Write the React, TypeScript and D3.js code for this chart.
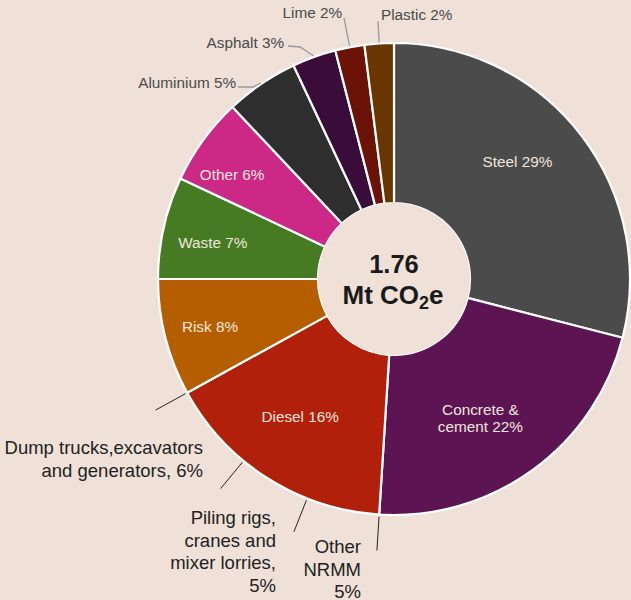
import React from "react";
import * as d3 from "d3";

// Share of embodied carbon by source (per cent), clockwise from 12 o'clock
const categories = [
  "Steel",
  "Concrete & cement",
  "Diesel",
  "Risk",
  "Waste",
  "Other",
  "Aluminium",
  "Asphalt",
  "Lime",
  "Plastic",
];
const shares = [29, 22, 16, 8, 7, 6, 5, 3, 2, 2];
const colors = [
  "#4b4b4b",
  "#5c1452",
  "#b1200b",
  "#b55e00",
  "#467b23",
  "#cc2885",
  "#2e2e2e",
  "#3a0c39",
  "#6a1306",
  "#6a3600",
];

// Diesel split, clockwise from the start of the diesel slice
const dieselParts = ["Other NRMM", "Piling rigs, cranes and mixer lorries", "Dump trucks,excavators and generators"];
const dieselShares = [5, 5, 6];
const dieselLines = [
  ["Other", "NRMM", "5%"],
  ["Piling rigs,", "cranes and", "mixer lorries,", "5%"],
  ["Dump trucks,excavators", "and generators, 6%"],
];

const totalLabel = "1.76";

const W = 631;
const H = 600;
const CX = 394;
const CY = 279;
const R_OUT = 236;
const R_IN = 76;
const BG = "#efe1d7";
const FONT = "'Liberation Sans', Arial, Helvetica, sans-serif";

// Label placement inside slices: [radius, angle offset in degrees]
const insidePlacement: Record<string, [number, number]> = {
  Steel: [171, -6],
  "Concrete & cement": [163, 4],
  Diesel: [166, 2],
  Risk: [190, 0],
  Waste: [185, -1],
  Other: [193, -3],
};

// Small slices labelled outside with a leader line: label anchor + elbow
const outsidePlacement: Record<string, { x: number; y: number; elbow: [number, number][] }> = {
  Aluminium: { x: 236, y: 82, elbow: [[253, 87], [238, 87]] },
  Asphalt: { x: 284, y: 42, elbow: [[300, 47], [288, 46]] },
  Lime: { x: 342, y: 12, elbow: [[344, 18]] },
  Plastic: { x: 381, y: 14, elbow: [[378, 21]] },
};

// Diesel sub-label anchors (right edge, first line centre)
const dieselLabelPos: [number, number][] = [
  [361, 546],
  [276, 517],
  [203, 447],
];

export default function App() {
  const rows = categories.map((name, i) => ({ name, value: shares[i], color: colors[i] }));
  const pie = d3
    .pie<{ name: string; value: number; color: string }>()
    .sort(null)
    .value((d) => d.value)
    .startAngle(0)
    .endAngle(2 * Math.PI);
  const arcs = pie(rows);
  const arc = d3
    .arc<d3.PieArcDatum<{ name: string; value: number; color: string }>>()
    .innerRadius(R_IN)
    .outerRadius(R_OUT);

  const total = d3.sum(shares);
  const angle = d3.scaleLinear().domain([0, total]).range([0, 2 * Math.PI]);
  const polar = (a: number, r: number): [number, number] => [CX + r * Math.sin(a), CY - r * Math.cos(a)];

  // Diesel slice boundaries for the tick marks
  const dieselIdx = categories.indexOf("Diesel");
  const dieselStart = d3.sum(shares.slice(0, dieselIdx));
  const cum = [dieselStart];
  dieselShares.forEach((v) => cum.push(cum[cum.length - 1] + v));

  return (
    <div style={{ position: "absolute", left: 0, top: 0, width: W, height: H, background: BG }}>
      <svg width={W} height={H} style={{ display: "block" }} fontFamily={FONT}>
        <rect width={W} height={H} fill={BG} />
        <g transform={`translate(${CX},${CY})`}>
          {arcs.map((a) => (
            <path key={a.data.name} d={arc(a) || ""} fill={a.data.color} stroke="#ffffff" strokeWidth={2.2} strokeLinejoin="round" />
          ))}
          <circle r={R_IN} fill={BG} />
        </g>

        {/* labels inside the larger slices */}
        {arcs
          .filter((a) => insidePlacement[a.data.name])
          .map((a) => {
            const [r, off] = insidePlacement[a.data.name];
            const mid = (a.startAngle + a.endAngle) / 2 + (off * Math.PI) / 180;
            const [x, y] = polar(mid, r);
            const text = `${a.data.name} ${a.data.value}%`;
            const lines = a.data.name === "Concrete & cement" ? ["Concrete &", `cement ${a.data.value}%`] : [text];
            return (
              <text key={a.data.name} x={x} y={y - ((lines.length - 1) * 17) / 2} fill="#f1e6de" fontSize={15.3} textAnchor="middle" dominantBaseline="central">
                {lines.map((l, i) => (
                  <tspan key={i} x={x} dy={i === 0 ? 0 : 17}>
                    {l}
                  </tspan>
                ))}
              </text>
            );
          })}

        {/* small slices with leader lines */}
        {arcs
          .filter((a) => outsidePlacement[a.data.name])
          .map((a) => {
            const p = outsidePlacement[a.data.name];
            const mid = (a.startAngle + a.endAngle) / 2;
            const edge = polar(mid, R_OUT + 1);
            const pts = [edge, ...p.elbow];
            return (
              <g key={a.data.name}>
                <path d={d3.line()(pts) || ""} fill="none" stroke="#9a9a9a" strokeWidth={1.3} />
                <text x={p.x} y={p.y} fill="#4a4a4a" fontSize={15.3} textAnchor={a.data.name === "Plastic" ? "start" : "end"} dominantBaseline="central">
                  {`${a.data.name} ${a.data.value}%`}
                </text>
              </g>
            );
          })}

        {/* diesel breakdown ticks */}
        {cum.map((c, i) => {
          const a = angle(c);
          const [x1, y1] = polar(a, R_OUT + 2);
          const [x2, y2] = polar(a, R_OUT + 36);
          return <line key={i} x1={x1} y1={y1} x2={x2} y2={y2} stroke="#222" strokeWidth={1} />;
        })}
        {dieselParts.map((name, i) => {
          const [x, y] = dieselLabelPos[i];
          const lines = dieselLines[i];
          return (
            <text key={name} x={x} y={y} fill="#222" fontSize={18.5} textAnchor="end" dominantBaseline="central">
              {lines.map((l, j) => (
                <tspan key={j} x={x} dy={j === 0 ? 0 : 22.5}>
                  {l}
                </tspan>
              ))}
            </text>
          );
        })}

        {/* centre total */}
        <text x={CX} y={CY - 6} textAnchor="middle" fontSize={25.5} fontWeight="bold" fill="#1a1a1a">
          {totalLabel}
        </text>
        <text x={CX - 1} y={CY + 25} textAnchor="middle" fontSize={26} fontWeight="bold" fill="#1a1a1a">
          Mt CO
          <tspan fontSize={18} dy={5}>
            2
          </tspan>
          <tspan dy={-5}>e</tspan>
        </text>
      </svg>
    </div>
  );
}
